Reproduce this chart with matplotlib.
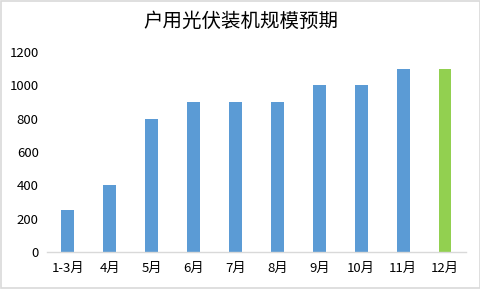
import matplotlib
matplotlib.use("Agg")
import matplotlib.pyplot as plt
from matplotlib.patches import Rectangle

plt.rcParams['font.family'] = ['Noto Sans CJK SC', 'DejaVu Sans']

title = "户用光伏装机规模预期"
months = ["1-3月", "4月", "5月", "6月", "7月", "8月", "9月", "10月", "11月", "12月"]
values = [250, 400, 800, 900, 900, 900, 1000, 1000, 1100, 1100]
bar_colors = ["#5B9BD5"] * 9 + ["#92D050"]

fig = plt.figure(figsize=(4.81, 2.89), dpi=100)
ax = fig.add_axes([0.0977, 0.128, 0.871, 0.692])

x = range(len(months))
ax.bar(x, values, width=0.31, color=bar_colors, zorder=2)

ax.set_xlim(-0.5, len(months) - 0.5)
ax.set_ylim(0, 1200)
ax.set_yticks(range(0, 1201, 200))
ax.set_xticks(list(x))
ax.set_xticklabels(months)
ax.tick_params(axis='both', length=0, labelsize=9.5, colors="#000000")
ax.tick_params(axis='x', pad=7)
ax.tick_params(axis='y', pad=6)

for side in ["top", "right", "left"]:
    ax.spines[side].set_visible(False)
ax.spines["bottom"].set_color("#D9D9D9")
ax.spines["bottom"].set_linewidth(1)

fig.text(0.5, 0.925, title, ha="center", va="center", fontsize=14, color="#000000")

fig.patches.append(Rectangle((0.002, 0.003), 0.995, 0.994, transform=fig.transFigure,
                             fill=False, edgecolor="#D9D9D9", linewidth=1.2))

fig.savefig("out.png", dpi=100)
